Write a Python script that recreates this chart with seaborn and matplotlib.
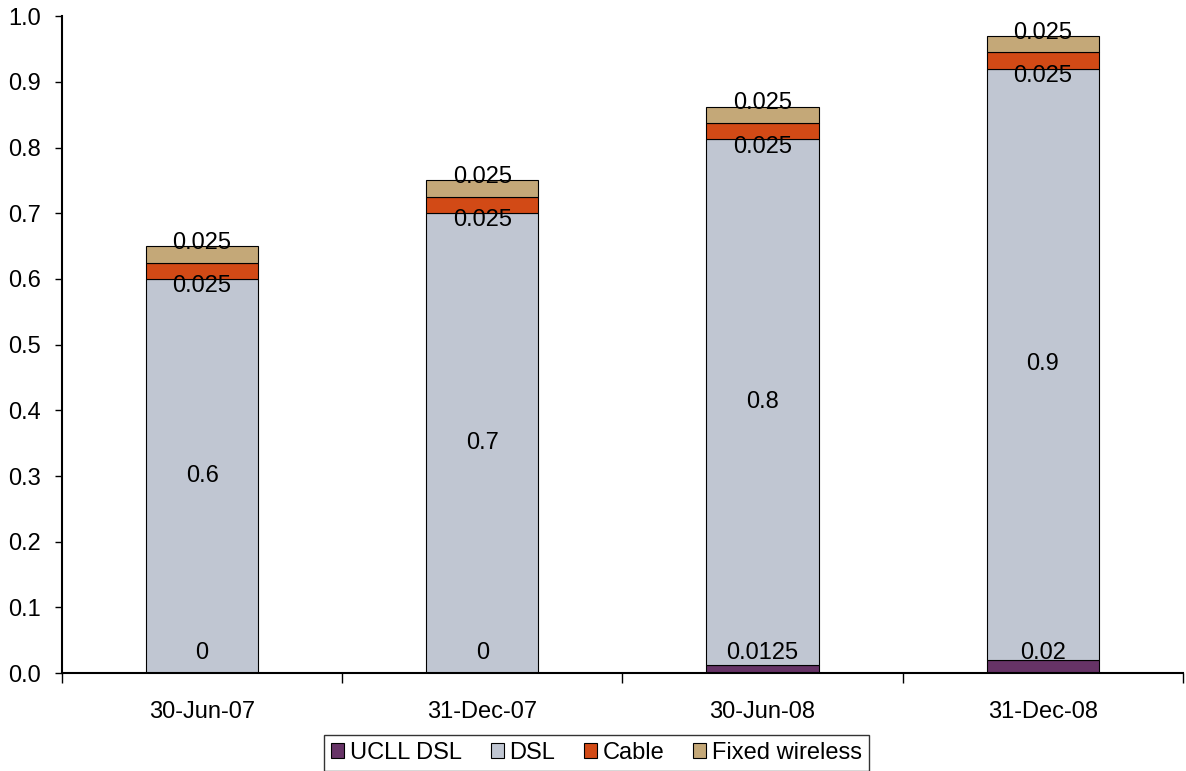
import pandas as pd
import matplotlib.pyplot as plt
import seaborn as sns
import numpy as np
from matplotlib.patches import Patch

# Dados do gráfico
dates = ['30-Jun-07', '31-Dec-07', '30-Jun-08', '31-Dec-08']
ucll_dsl = [0, 0, 0.0125, 0.02]
dsl = [0.6, 0.7, 0.8, 0.9]
cable = [0.025, 0.025, 0.025, 0.025]
fixed_wireless = [0.025, 0.025, 0.025, 0.025]

series = ['UCLL DSL', 'DSL', 'Cable', 'Fixed wireless']
cores = {'UCLL DSL': '#663366',
         'DSL': '#C0C6D2',
         'Cable': '#D24A16',
         'Fixed wireless': '#C4A878'}

dt = pd.DataFrame({'Date': dates, 'UCLL DSL': ucll_dsl, 'DSL': dsl,
                   'Cable': cable, 'Fixed wireless': fixed_wireless})

sns.set_style('white')
plt.rcParams['font.family'] = ['Liberation Sans', 'DejaVu Sans']
plt.rcParams['text.color'] = 'black'
plt.rcParams['xtick.color'] = 'black'
plt.rcParams['ytick.color'] = 'black'

fig = plt.figure(figsize=(11.86, 7.71), dpi=100)
ax = fig.add_axes([0.0523, 0.127, 0.945, 0.852])

# Barras empilhadas
base = np.zeros(len(dates))
for s in series:
    sns.barplot(data=dt, x='Date', y=s, color=cores[s], bottom=base,
                width=0.4, edgecolor='black', linewidth=0.8, saturation=1,
                ax=ax)
    base = base + dt[s].values

# Rótulos de dados (posição imitando o Excel)
fs = 17
b0 = dt['UCLL DSL'].values
b1 = b0 + dt['DSL'].values
b2 = b1 + dt['Cable'].values
b3 = b2 + dt['Fixed wireless'].values
for i in range(len(dates)):
    ax.text(i, max(b0[i] / 2, 0.031), f"{dt['UCLL DSL'][i]:g}", ha='center', va='center', fontsize=fs)
    ax.text(i, b0[i] + dt['DSL'][i] / 2, f"{dt['DSL'][i]:g}", ha='center', va='center', fontsize=fs)
    ax.text(i, b1[i] - 0.011, f"{dt['Cable'][i]:g}", ha='center', va='center', fontsize=fs)
    ax.text(i, b3[i] + 0.005, f"{dt['Fixed wireless'][i]:g}", ha='center', va='center', fontsize=fs)

# Eixos
ax.set_xlim(-0.5, 3.5)
ax.set_ylim(0, 1.0)
ax.set_yticks(np.arange(0, 1.01, 0.1))
ax.set_yticklabels([f'{v:.1f}' for v in np.arange(0, 1.01, 0.1)], fontsize=fs)
ax.set_xticks(np.arange(-0.5, 3.6, 1))
ax.set_xticklabels([])
ax.set_xticks(range(len(dates)), minor=True)
ax.set_xticklabels(dates, minor=True, fontsize=fs)
ax.tick_params(axis='x', which='major', direction='out', length=7, width=1, color='black', bottom=True)
ax.tick_params(axis='x', which='minor', length=0, pad=20)
ax.tick_params(axis='y', direction='out', length=5, width=1, color='black', left=True, pad=10)
ax.set_xlabel('')
ax.set_ylabel('')
for sp in ['top', 'right']:
    ax.spines[sp].set_visible(False)
for sp in ['left', 'bottom']:
    ax.spines[sp].set_color('black')
    ax.spines[sp].set_linewidth(1.5)

# Legenda
handles = [Patch(facecolor=cores[s], edgecolor='black', linewidth=0.8) for s in series]
leg = fig.legend(handles, series, loc='upper center', bbox_to_anchor=(0.503, 0.047),
                 bbox_transform=fig.transFigure, ncol=4, fontsize=fs, frameon=True,
                 fancybox=False, edgecolor='black', handlelength=0.55, handleheight=0.55,
                 handletextpad=0.25, columnspacing=1.2, borderpad=0.3, borderaxespad=0)
leg.get_frame().set_linewidth(1)

plt.savefig('out.png', dpi=100)
plt.close()
